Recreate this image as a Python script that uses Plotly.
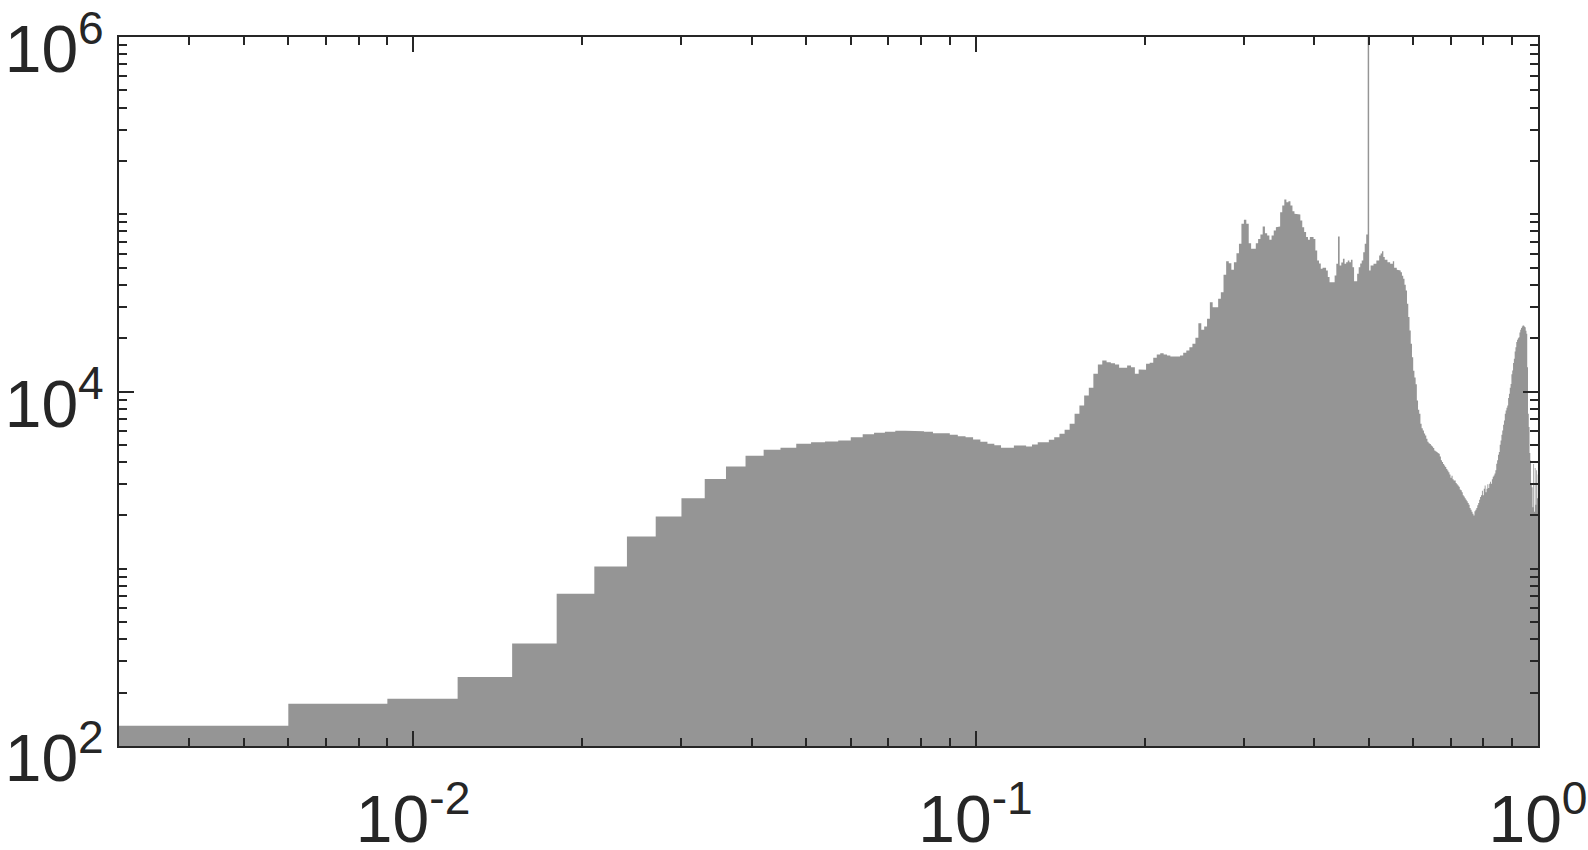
import plotly.graph_objects as go

# histogram: bins of width 0.003, first visible bin starts at 0.003
bin_width = 0.003
first_left_edge = 0.003
bin_counts = [
    130, 173, 185, 245, 379, 722, 1030, 1521, 1972, 2500,
    3213, 3776, 4335, 4689, 4810, 5070, 5175, 5223, 5293, 5525,
    5745, 5850, 5930, 6000, 6000, 5970, 5930, 5820, 5820, 5700,
    5600, 5525, 5355, 5200, 5070, 4980, 4810, 4810, 4955, 4955,
    4895, 5025, 5175, 5175, 5345, 5525, 5770, 6080, 6575, 7485,
    8340, 9490, 10490, 12590, 14200, 14950, 14630, 14440, 14200, 13620,
    13620, 14030, 13720, 12590, 13310, 13250, 14320, 14510, 15490, 16170,
    16450, 16170, 15960, 15740, 15740, 15740, 15960, 16520, 17030, 17780,
    18580, 20090, 24280, 22280, 23270, 25720, 31900, 29900, 29900, 33340,
    36300, 45500, 54300, 52900, 48600, 53600, 60300, 68100, 88300, 93000,
    88300, 68700, 63800, 63800, 68700, 72600, 76900, 85300, 78200, 75900,
    71800, 75900, 80900, 84500, 85300, 102800, 112000, 121000, 116900, 118500,
    112000, 104000, 100700, 99800, 99800, 92200, 84500, 79300, 74300, 71800,
    74300, 74300, 72600, 62400, 54800, 52700, 49200, 49900, 49900, 48200,
    44200, 41400, 41400, 41400, 45100, 52500, 74900, 51400, 53500, 56100,
    52500, 53600, 54800, 53600, 55300, 50200, 41900, 41900, 46100, 50200,
    52700, 54800, 61100, 68100, 76900, 1500000, 48200, 51400, 51400, 52500,
    52500, 54800, 54800, 58500, 60100, 61900, 57300, 55300, 55300, 53600,
    53600, 52500, 52500, 54300, 49900, 49900, 48600, 48200, 48200, 47100,
    45000, 43200, 40000, 37200, 31300, 26300, 22100, 18600, 15600, 13100,
    12000, 11000, 8890, 7900, 7480, 6570, 6200, 6030, 5800, 5650,
    5410, 5200, 5100, 5050, 4960, 4900, 4800, 4650, 4600, 4550,
    4500, 4450, 4300, 4100, 4000, 3900, 3820, 3750, 3650, 3580,
    3500, 3400, 3260, 3350, 3200, 3150, 3150, 3050, 3000, 2950,
    2900, 2800, 2770, 2700, 2600, 2560, 2500, 2450, 2400, 2350,
    2300, 2200, 2150, 2100, 2040, 2000, 2110, 2150, 2200, 2280,
    2350, 2450, 2540, 2600, 2750, 2600, 2830, 2950, 2700, 2830,
    3000, 2850, 3020, 3100, 3020, 3200, 3300, 3360, 3450, 3600,
    3910, 4100, 4400, 4550, 5000, 5290, 5700, 6030, 6500, 6860,
    7500, 7810, 8100, 8340, 9200, 9710, 10500, 11040, 12500, 13130,
    14500, 15280, 16800, 17780, 19000, 19580, 20000, 20250, 21500, 22270,
    22800, 23270, 23570, 23570, 23300, 23050, 22000, 21170, 13700, 7500,
    6300, 4500, 4080, 3000, 2885, 2220, 3900, 2100, 3700, 2300,
    3600, 2500, 3400,
]

x_tick_values = [0.01, 0.1, 1]
x_tick_labels = ["10<sup>-2</sup>", "10<sup>-1</sup>", "10<sup>0</sup>"]
y_tick_values = [1e2, 1e4, 1e6]
y_tick_labels = ["10<sup>2</sup>", "10<sup>4</sup>", "10<sup>6</sup>"]

AXIS_COLOR = "#262626"
BAR_COLOR = "#959595"
FONT = "Helvetica, Liberation Sans, Arial, sans-serif"


def _step_outline(left_edge, width, counts, floor=1.0):
    xs, ys = [left_edge], [floor]
    for i, count in enumerate(counts):
        left = left_edge + i * width
        xs += [left, left + width]
        ys += [count, count]
    xs.append(left_edge + len(counts) * width)
    ys.append(floor)
    return xs, ys


def _minor_ticks(first_decade, last_decade):
    vals = []
    for d in range(first_decade, last_decade):
        vals += [m * 10.0 ** d for m in range(2, 10)]
    return vals


xs, ys = _step_outline(first_left_edge, bin_width, bin_counts)

fig = go.Figure()
fig.add_trace(
    go.Scatter(
        x=xs,
        y=ys,
        mode="lines",
        fill="toself",
        fillcolor=BAR_COLOR,
        line={"width": 0, "color": BAR_COLOR},
        hoverinfo="skip",
        showlegend=False,
    )
)

axis_common = dict(
    type="log",
    automargin=False,
    showgrid=False,
    zeroline=False,
    showline=True,
    linewidth=2,
    linecolor=AXIS_COLOR,
    mirror="ticks",
    ticks="inside",
    ticklen=15,
    tickwidth=2,
    tickcolor=AXIS_COLOR,
    ticklabeloverflow="allow",
    tickfont={"family": FONT, "size": 66, "color": AXIS_COLOR},
)

fig.update_xaxes(
    **axis_common,
    range=[-2.5229, 0.00005],
    tickvals=x_tick_values,
    ticktext=x_tick_labels,
    ticklabelstandoff=15,
    minor=dict(
        ticks="inside",
        ticklen=8,
        tickwidth=2,
        tickcolor=AXIS_COLOR,
        tickvals=[v for v in _minor_ticks(-3, 0) if v > 0.003],
        showgrid=False,
    ),
)
fig.update_yaxes(
    **axis_common,
    range=[1.9999, 6.0001],
    tickvals=y_tick_values,
    ticktext=y_tick_labels,
    ticklabelstandoff=0,
    ticklabelshift=12,
    minor=dict(
        ticks="inside",
        ticklen=8,
        tickwidth=2,
        tickcolor=AXIS_COLOR,
        tickvals=_minor_ticks(2, 6) + [1e3, 1e5],
        showgrid=False,
    ),
)

fig.update_layout(
    width=1588,
    height=850,
    margin=dict(l=119, r=50, t=37, b=104, pad=0),
    plot_bgcolor="white",
    paper_bgcolor="white",
    showlegend=False,
)

fig.write_html(
    "out.html",
    config={"displayModeBar": False},
    post_script="document.body.style.margin='0';",
)
